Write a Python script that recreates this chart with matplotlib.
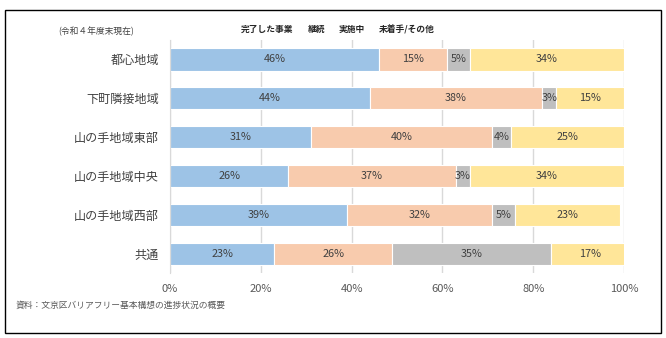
import numpy as np
import matplotlib
matplotlib.use("Agg")
import matplotlib.pyplot as plt
from matplotlib.patches import Rectangle

plt.rcParams['font.family'] = ['Noto Sans CJK JP', 'DejaVu Sans']

categories = ["都心地域", "下町隣接地域", "山の手地域東部", "山の手地域中央", "山の手地域西部", "共通"]
series_names = ["完了した事業", "継続", "実施中", "未着手/その他"]
completed = [46, 44, 31, 26, 39, 23]
continuing = [15, 38, 40, 37, 32, 26]
ongoing = [5, 3, 4, 3, 5, 35]
not_started = [34, 15, 25, 34, 23, 17]
colors = ["#9DC3E6", "#F8CBAD", "#BFBFBF", "#FFE699"]
xticks = [0, 20, 40, 60, 80, 100]


def main():
    fig = plt.figure(figsize=(6.66, 3.38), dpi=100)
    ax = fig.add_axes([0.2553, 0.1923, 0.6817, 0.6893])

    y = np.arange(len(categories))
    left = np.zeros(len(categories))
    handles = []
    for name, vals, col in zip(series_names, [completed, continuing, ongoing, not_started], colors):
        vals = np.array(vals, dtype=float)
        bars = ax.barh(y, vals, left=left, height=0.57, color=col,
                       edgecolor="white", linewidth=0.8, label=name, zorder=2)
        handles.append(bars)
        for yi, l, v in zip(y, left, vals):
            ax.text(l + v / 2, yi, f"{v:.0f}%", ha="center", va="center",
                    fontsize=7.8, color="#404040", zorder=3)
        left += vals

    ax.set_xlim(0, 100)
    ax.set_ylim(5.5, -0.5)
    ax.set_yticks(y)
    ax.set_yticklabels(categories, fontsize=8.7, color="#404040")
    ax.set_xticks(xticks)
    ax.set_xticklabels([f"{t}%" for t in xticks], fontsize=8, color="#595959")
    ax.tick_params(axis="x", length=0, pad=8)
    ax.tick_params(axis="y", length=0, pad=8)
    ax.grid(axis="x", color="#D9D9D9", linewidth=1, zorder=0)
    for s in ["top", "right", "bottom"]:
        ax.spines[s].set_visible(False)
    ax.spines["left"].set_color("#D9D9D9")

    leg = ax.legend(handles=handles, ncol=4, loc="center",
                    bbox_to_anchor=(0.37, 1.045), frameon=False, fontsize=6.3,
                    handlelength=0, handletextpad=0, columnspacing=1.6,
                    borderpad=0, borderaxespad=0)
    for t in leg.get_texts():
        t.set_color("#262626")
        t.set_fontweight("bold")

    fig.text(0.087, 0.907, "(令和４年度末現在)", fontsize=6.3, color="#404040", va="center")
    fig.text(0.024, 0.098, "資料：文京区バリアフリー基本構想の進捗状況の概要", fontsize=6.3,
             color="#595959", va="center")

    fig.patches.append(Rectangle((0.008, 0.015), 0.984, 0.955, transform=fig.transFigure,
                                 fill=False, edgecolor="black", linewidth=1))

    fig.savefig("out.png", dpi=100)


if __name__ == "__main__":
    main()
